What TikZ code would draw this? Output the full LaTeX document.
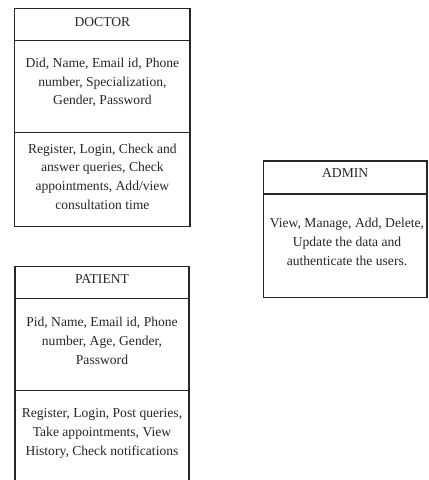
\documentclass[tikz,border=0pt]{standalone}
\usepackage{fontspec}
\setmainfont{Liberation Serif}
\begin{document}
\begin{tikzpicture}[x=1pt,y=-1pt,
  boxline/.style={draw=black!85,line width=1.2pt},
  txt/.style={font=\fontsize{13.6}{18.9}\selectfont,text=black!85,align=center,inner sep=0pt},
  hdr/.style={font=\fontsize{13.6}{16}\selectfont,text=black!85,inner sep=0pt}]
\useasboundingbox (0,0) rectangle (429,480);
% DOCTOR
\draw[boxline] (14.7,8.3) rectangle (190,226.7);
\draw[boxline] (14.7,40.7) -- (190,40.7);
\draw[boxline] (14.7,132.7) -- (190,132.7);
\node[hdr] (dochead) at (102.4,21.7) {DOCTOR};
\node[txt] (docattr) at (102.4,82.4) {Did, Name, Email id, Phone\\number, Specialization,\\Gender, Password};
\node[txt] (docmeth) at (102.4,176.7) {Register, Login, Check and\\answer queries, Check\\appointments, Add/view\\consultation time};
% PATIENT
\draw[boxline] (15,480) -- (15,266.7) -- (189,266.7) -- (189,480);
\draw[boxline] (15,298.3) -- (189,298.3);
\draw[boxline] (15,390.7) -- (189,390.7);
\node[hdr] (pathead) at (102,279.3) {PATIENT};
\node[txt] (patattr) at (102,340.6) {Pid, Name, Email id, Phone\\number, Age, Gender,\\Password};
\node[txt] (patmeth) at (102,433.2) {Register, Login, Post queries,\\Take appointments, View\\History, Check notifications};
% ADMIN
\draw[boxline] (263.3,161) rectangle (427,297.7);
\draw[boxline] (263.3,194) -- (427,194);
\node[hdr] (admhead) at (345.2,173.3) {ADMIN};
\node[txt] (admbody) at (347,242.2) {View, Manage, Add, Delete,\\Update the data and\\authenticate the users.};
\end{tikzpicture}
\end{document}
